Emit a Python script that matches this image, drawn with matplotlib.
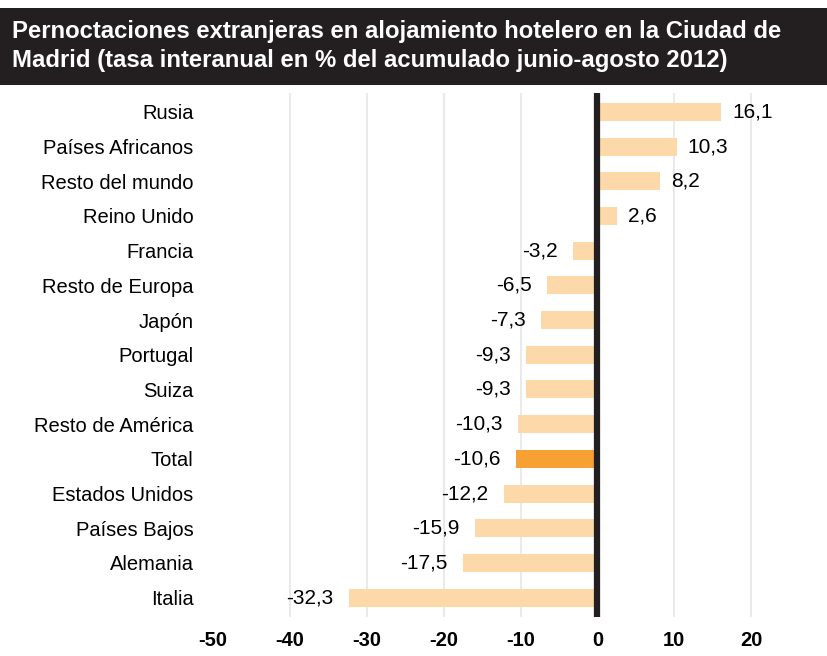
import matplotlib.pyplot as plt
from matplotlib.patches import Rectangle

plt.rcParams['font.family'] = ['Liberation Sans', 'DejaVu Sans']

countries = ["Rusia", "Países Africanos", "Resto del mundo", "Reino Unido", "Francia",
             "Resto de Europa", "Japón", "Portugal", "Suiza", "Resto de América",
             "Total", "Estados Unidos", "Países Bajos", "Alemania", "Italia"]
values = [16.1, 10.3, 8.2, 2.6, -3.2, -6.5, -7.3, -9.3, -9.3, -10.3,
          -10.6, -12.2, -15.9, -17.5, -32.3]
ticks = [-50, -40, -30, -20, -10, 0, 10, 20]

light = "#fdd9a9"
dark = "#f7a034"
colors = [dark if c == "Total" else light for c in countries]

fig = plt.figure(figsize=(8.28, 6.56), dpi=100)
# title box
fig.patches.append(Rectangle((0, 1 - 85 / 656), 1, 77 / 656, transform=fig.transFigure,
                             facecolor="#231f20", edgecolor="none"))
fig.text(12 / 828, 1 - 46 / 656,
         "Pernoctaciones extranjeras en alojamiento hotelero en la Ciudad de\n"
         "Madrid (tasa interanual en % del acumulado junio-agosto 2012)",
         color="white", fontsize=17.2, fontweight="bold", va="center", ha="left",
         linespacing=1.33)

row = 34.93
top = 112 - 0.55 * row
h = 15 * row
ax = fig.add_axes([213 / 828, (656 - top - h) / 656, 615 / 828, h / 656])
y = list(range(len(countries)))
ax.barh(y, values, height=0.52, color=colors, zorder=2)
ax.set_ylim(len(countries) - 0.45, -0.55)
ax.set_xlim(-50, 30)
ax.set_yticks(y)
ax.set_yticklabels(countries, fontsize=14.5)
ax.set_xticks(ticks)
ax.set_xticklabels([str(t) for t in ticks], fontsize=14.5, fontweight="bold")
ax.tick_params(length=0)
ax.tick_params(axis="y", pad=14)
ax.tick_params(axis="x", pad=10)
for s in ax.spines.values():
    s.set_visible(False)
for t in ticks:
    if t not in (-50, 0):
        ax.axvline(t, color="#e6e6e6", lw=1.2, zorder=1)
ax.axvline(0, color="#231f20", lw=4.5, zorder=3)

for yi, v in zip(y, values):
    lbl = f"{v:.1f}".replace(".", ",")
    if v >= 0:
        ax.text(v + 1.4, yi, lbl, va="center", ha="left", fontsize=15)
    else:
        ax.text(v - 2.0, yi, lbl, va="center", ha="right", fontsize=15)

fig.savefig("out.png", dpi=100)
